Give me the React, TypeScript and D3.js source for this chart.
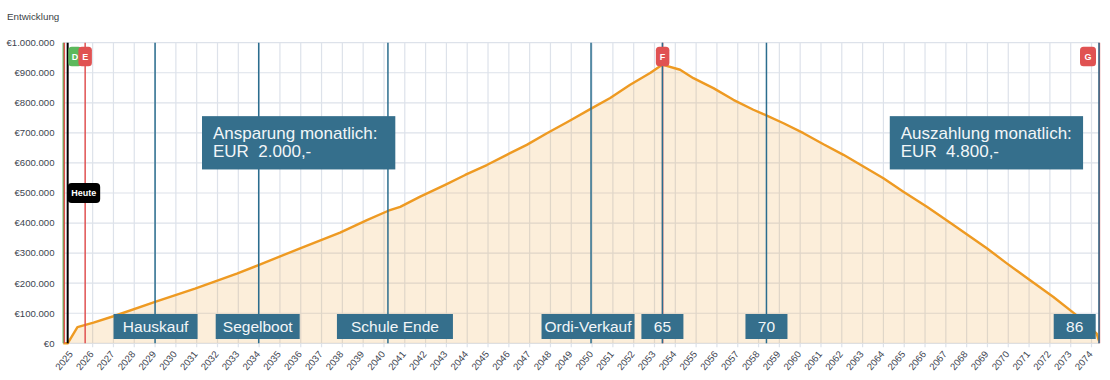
import React from "react";
import * as d3 from "d3";

// ---- data ----
const pointYears = [
  2024.59, 2024.8, 2025.27, 2026.04, 2027.0, 2029.0, 2030.92, 2032.93, 2033.97, 2035.97,
  2037.89, 2039.18, 2040.21, 2040.78, 2041.74, 2042.94, 2043.9, 2044.94, 2045.9, 2046.86,
  2047.83, 2048.86, 2049.91, 2050.87, 2051.83, 2052.79, 2053.37, 2054.23, 2054.87, 2055.83,
  2056.79, 2057.75, 2058.32, 2059.2, 2060.16, 2061.12, 2062.08, 2063.04, 2064.0, 2064.96,
  2066.09, 2067.21, 2068.97, 2069.93, 2071.05, 2072.17, 2073.29, 2074.25, 2074.36,
];
const pointValues = [
  0, 0, 54000, 69000, 90000, 138000, 182000, 232000, 260000, 316000,
  368000, 410000, 441000, 454000, 488000, 527000, 560000, 593000, 627000, 660000,
  699000, 738000, 779000, 816000, 860000, 899000, 927000, 910000, 882000, 849000,
  810000, 777000, 760000, 732000, 699000, 662000, 627000, 588000, 549000, 504000,
  454000, 401000, 316000, 266000, 210000, 154000, 93000, 32000, 8000,
];

const tickYears = d3.range(2025, 2075);
const valueTicks = d3.range(0, 1000001, 100000);

const milestoneLabels = ["Hauskauf", "Segelboot", "Schule Ende", "Ordi-Verkauf", "65", "70", "86"];
const milestoneYears = [2029.0, 2033.98, 2040.19, 2049.95, 2053.38, 2058.38, 2074.36];

const markerKeys = ["D", "", "E", "F", "G"];
const markerYears = [2024.59, 2024.64, 2025.64, 2053.39, 2074.38];

const todayYear = 2024.8;
const todayLabel = "Heute";
const todayValue = 500000;

const infoTexts = [
  ["Ansparung monatlich:", "EUR  2.000,-"],
  ["Auszahlung monatlich:", "EUR  4.800,-"],
];
const infoYears = [2035.9, 2068.95];
const infoValue = 667000;

// ---- layout / style ----
const W = 1110;
const H = 380;
const plot = { left: 63.3, right: 1099, top: 42.7, bottom: 343.3 };
const FONT = "'Liberation Sans', Arial, Helvetica, sans-serif";
const BLUE = "#356f8c";
const BLUE_LINE = "#2b6d8e";
const RED = "#e05252";
const GREEN = "#5cb85c";
const ORANGE = "#ee9a22";
const GRID = "#dde2ea";
const milestoneBoxW = [84, 84, 116, 93, 42, 42, 42];
const milestoneDx = [0.5, -1, 7, -3, 0, 0, 0];
const markerColors = [GREEN, RED, RED, RED, RED];

export default function App() {
  const x = d3.scaleLinear().domain([2024.59, 2074.36]).range([plot.left, plot.right]);
  const y = d3.scaleLinear().domain([0, 1000000]).range([plot.bottom, plot.top]);
  const pts = pointYears.map((t, i) => [t, pointValues[i]] as [number, number]);
  const line = d3.line<[number, number]>().x((d) => x(d[0])).y((d) => y(d[1]));
  const area = d3
    .area<[number, number]>()
    .x((d) => x(d[0]))
    .y0(y(0))
    .y1((d) => y(d[1]));
  const fmt = (v: number) => "€" + d3.format(",")(v).replace(/,/g, ".");

  return (
    <svg
      width={W}
      height={H}
      style={{ position: "absolute", left: 0, top: 0, display: "block", background: "#fff" }}
      fontFamily={FONT}
    >
      <text x={7} y={19.5} fontSize={9.8} fill="#3a3f45">
        Entwicklung
      </text>

      {/* grid */}
      {valueTicks.map((v) => (
        <line key={"h" + v} x1={plot.left} x2={plot.right} y1={y(v)} y2={y(v)} stroke={GRID} strokeWidth={1.2} />
      ))}
      {tickYears.slice(1).map((t) => (
        <line key={"v" + t} x1={x(t)} x2={x(t)} y1={plot.top} y2={plot.bottom + 4} stroke={GRID} strokeWidth={1.2} />
      ))}

      {/* y labels */}
      {valueTicks.map((v) => (
        <text key={"yl" + v} x={54.5} y={y(v)} dy="0.35em" textAnchor="end" fontSize={9.6} fill="#3d4450">
          {fmt(v)}
        </text>
      ))}
      {/* x labels */}
      {tickYears.map((t) => (
        <text
          key={"xl" + t}
          transform={`translate(${x(t) - 1},${plot.bottom + 9}) rotate(-50)`}
          textAnchor="end"
          dy="0.35em"
          fontSize={9.6}
          fill="#3d4450"
        >
          {t}
        </text>
      ))}

      {/* area + line */}
      <path d={area(pts) || ""} fill={ORANGE} fillOpacity={0.17} />
      <path d={line(pts) || ""} fill="none" stroke={ORANGE} strokeWidth={2.4} strokeLinejoin="round" />

      {/* marker lines */}
      {markerYears.map((t, i) => (
        <line key={"m" + i} x1={x(t)} x2={x(t)} y1={plot.top} y2={plot.bottom} stroke={markerColors[i]} strokeWidth={1.5} />
      ))}
      {/* milestone lines */}
      {milestoneYears.map((t, i) => (
        <line key={"ml" + i} x1={x(t)} x2={x(t)} y1={plot.top} y2={plot.bottom} stroke={BLUE_LINE} strokeWidth={1.5} />
      ))}
      {/* today line */}
      <line x1={x(todayYear)} x2={x(todayYear)} y1={plot.top} y2={plot.bottom} stroke="#000" strokeWidth={2} />

      {/* marker labels */}
      {markerKeys.map((k, i) => {
        if (!k) return null;
        const w = k === "G" ? 16 : 13.5;
        const cx = Math.min(Math.max(x(markerYears[i]), plot.left + 5 + w / 2), plot.right - 3 - w / 2);
        return (
          <g key={"mk" + i}>
            <rect x={cx - w / 2} y={46.8} width={w} height={19.4} rx={3.5} fill={markerColors[i]} />
            <text x={cx} y={56.5} dy="0.35em" textAnchor="middle" fontSize={9} fontWeight="bold" fill="#fff">
              {k}
            </text>
          </g>
        );
      })}

      {/* today label */}
      <g>
        <rect x={x(todayYear)} y={y(todayValue) - 10} width={32.5} height={20} rx={4} fill="#000" />
        <text x={x(todayYear) + 16.2} y={y(todayValue)} dy="0.35em" textAnchor="middle" fontSize={9} fontWeight="bold" fill="#fff">
          {todayLabel}
        </text>
      </g>

      {/* milestone labels */}
      {milestoneLabels.map((lab, i) => {
        const w = milestoneBoxW[i];
        const cx = Math.min(x(milestoneYears[i]) + milestoneDx[i], plot.right - 3.3 - w / 2);
        return (
          <g key={"lb" + i}>
            <rect x={cx - w / 2} y={314} width={w} height={25} fill={BLUE} />
            <text x={cx} y={326.5} dy="0.36em" textAnchor="middle" fontSize={15.5} fill="#f2f6f8">
              {lab}
            </text>
          </g>
        );
      })}

      {/* info boxes */}
      {infoTexts.map((lines, i) => {
        const bw = 193.3;
        const bh = 53.3;
        const cx = x(infoYears[i]);
        const cy = y(infoValue);
        return (
          <g key={"ib" + i}>
            <rect x={cx - bw / 2} y={cy - bh / 2} width={bw} height={bh} fill={BLUE} />
            {lines.map((ln, j) => (
              <text key={j} x={cx - bw / 2 + 11} y={cy - bh / 2 + 22.5 + j * 18} fontSize={17} fill="#f2f6f8" style={{ whiteSpace: "pre" }}>
                {ln}
              </text>
            ))}
          </g>
        );
      })}
    </svg>
  );
}
